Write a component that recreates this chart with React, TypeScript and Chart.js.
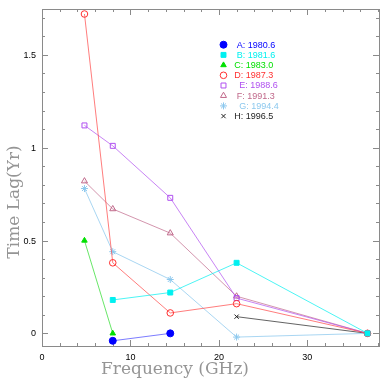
import { useEffect, useRef } from 'react';
import { Chart, registerables } from 'chart.js';
import { drawPoint } from 'chart.js/helpers';

Chart.register(...registerables);

// ---- data ----
const seriesNames = [' A: 1980.6', ' B: 1981.6', 'C: 1983.0', 'D: 1987.3', '  E: 1988.6', ' F: 1991.3', '  G: 1994.4', 'H: 1996.5'];

const freqA = [8.0, 14.5];
const lagA = [-0.04, 0.0];
const freqB = [8.0, 14.5, 22.0, 36.8];
const lagB = [0.18, 0.22, 0.38, 0.0];
const freqC = [4.8, 8.0];
const lagC = [0.5, 0.0];
const freqD = [4.8, 8.0, 14.5, 22.0, 36.8];
const lagD = [1.72, 0.38, 0.11, 0.16, 0.0];
const freqE = [4.8, 8.0, 14.5, 22.0, 36.8];
const lagE = [1.12, 1.01, 0.73, 0.19, 0.0];
const freqF = [4.8, 8.0, 14.5, 22.0, 36.8];
const lagF = [0.82, 0.67, 0.54, 0.2, 0.0];
const freqG = [4.8, 8.0, 14.5, 22.0, 36.8];
const lagG = [0.78, 0.44, 0.29, -0.02, 0.0];
const freqH = [22.0, 36.8];
const lagH = [0.09, 0.0];

const xTickValues = [0, 10, 20, 30];
const xTickLabels = ['0', '10', '20', '30'];
const yTickValues = [0, 0.5, 1, 1.5];
const yTickLabels = ['0', '0.5', '1', '1.5'];
const xMinorStep = 2;
const yMinorStep = 0.1;

const xTitle = 'Frequency (GHz)';
const yTitle = 'Time Lag(Yr)';

// ---- styles ----
const styles = [
  { color: '#0000ff', line: 'rgba(80,80,255,0.75)', shape: 'circle', filled: true, r: 3.5 },
  { color: '#00f0f0', line: 'rgba(0,240,240,0.7)', shape: 'rect', filled: true, r: 3.5 },
  { color: '#00e000', line: 'rgba(40,220,40,0.7)', shape: 'triangle', filled: true, r: 3.2 },
  { color: '#ff3030', line: 'rgba(255,70,70,0.7)', shape: 'circle', filled: false, r: 3.3 },
  { color: '#b050f0', line: 'rgba(176,80,240,0.7)', shape: 'rect', filled: false, r: 3.5 },
  { color: '#c0688a', line: 'rgba(192,104,138,0.7)', shape: 'triangle', filled: false, r: 3.5 },
  { color: '#8cc8ee', line: 'rgba(140,200,238,0.75)', shape: 'star', filled: false, r: 3.5 },
  { color: '#222222', line: 'rgba(60,60,60,0.8)', shape: 'crossRot', filled: false, r: 3 },
];

const xs = [freqA, freqB, freqC, freqD, freqE, freqF, freqG, freqH];
const ys = [lagA, lagB, lagC, lagD, lagE, lagF, lagG, lagH];

const axisColor = '#8a8a8a';
const tickFont = '9px "Liberation Sans", Arial, sans-serif';
const titleFont = '17px "DejaVu Serif", serif';

const framePlugin = {
  id: 'frame',
  beforeDatasetsDraw(chart: any) {
    const { ctx, chartArea: a, scales } = chart;
    const sx = scales.x, sy = scales.y;
    ctx.save();
    ctx.strokeStyle = axisColor;
    ctx.lineWidth = 1;
    ctx.strokeRect(Math.round(a.left) + 0.5, Math.round(a.top) + 0.5, Math.round(a.right - a.left), Math.round(a.bottom - a.top));
    ctx.beginPath();
    for (let v = 0; v <= sx.max + 1e-9; v += xMinorStep) {
      const major = Math.abs(v % 10) < 1e-9;
      const len = major ? 6 : 3;
      const px = Math.round(sx.getPixelForValue(v)) + 0.5;
      ctx.moveTo(px, a.bottom); ctx.lineTo(px, a.bottom - len);
      ctx.moveTo(px, a.top); ctx.lineTo(px, a.top + len);
    }
    for (let i = Math.ceil(sy.min / yMinorStep); i * yMinorStep <= sy.max + 1e-9; i++) {
      const v = i * yMinorStep;
      const major = i % 5 === 0;
      const len = major ? 6 : 3;
      const py = Math.round(sy.getPixelForValue(v)) + 0.5;
      ctx.moveTo(a.left, py); ctx.lineTo(a.left + len, py);
      ctx.moveTo(a.right, py); ctx.lineTo(a.right - len, py);
    }
    ctx.stroke();
    ctx.restore();
  },
  afterDraw(chart: any) {
    const { ctx, chartArea: a, scales } = chart;
    const sx = scales.x, sy = scales.y;
    ctx.save();
    ctx.fillStyle = '#000';
    ctx.font = tickFont;
    ctx.textAlign = 'center';
    ctx.textBaseline = 'middle';
    xTickValues.forEach((v, i) => ctx.fillText(xTickLabels[i], sx.getPixelForValue(v), a.bottom + 11.5));
    ctx.textAlign = 'right';
    yTickValues.forEach((v, i) => ctx.fillText(yTickLabels[i], a.left - 6, sy.getPixelForValue(v) + 0.5));

    ctx.fillStyle = '#959595';
    ctx.font = titleFont;
    ctx.textAlign = 'center';
    ctx.textBaseline = 'middle';
    ctx.fillText(xTitle, 175, 370);
    ctx.save();
    ctx.translate(15, 202);
    ctx.rotate(-Math.PI / 2);
    ctx.fillText(yTitle, 0, 0);
    ctx.restore();

    ctx.font = tickFont;
    ctx.textAlign = 'left';
    chart.data.datasets.forEach((ds: any, i: number) => {
      const st = styles[i];
      const y = 44.7 + i * 10.2;
      ctx.save();
      ctx.strokeStyle = st.color;
      ctx.fillStyle = st.filled ? st.color : 'rgba(0,0,0,0)';
      ctx.lineWidth = 1;
      drawPoint(ctx, { pointStyle: st.shape, radius: st.r, rotation: 0, borderWidth: 1 } as any, 223.5, y);
      ctx.restore();
      ctx.fillStyle = st.color;
      ctx.fillText(ds.label, 234.3, y + 0.5);
    });
    ctx.restore();
  },
};

export default function App() {
  const ref = useRef<HTMLCanvasElement>(null);
  useEffect(() => {
    document.body.style.margin = '0';
    const datasets = xs.map((xv, i) => ({
      label: seriesNames[i],
      data: xv.map((x, j) => ({ x, y: ys[i][j] })),
      showLine: true,
      borderColor: styles[i].line,
      borderWidth: 1,
      pointStyle: styles[i].shape as any,
      pointRadius: styles[i].r,
      pointBorderColor: styles[i].color,
      pointBackgroundColor: styles[i].filled ? styles[i].color : 'rgba(0,0,0,0)',
      pointBorderWidth: 1,
      backgroundColor: styles[i].color,
    }));
    const chart = new Chart(ref.current!, {
      type: 'scatter',
      data: { datasets },
      options: {
        animation: false,
        responsive: false,
        devicePixelRatio: 1,
        layout: { padding: { left: 42, right: 9, top: 9, bottom: 42 } },
        plugins: { legend: { display: false }, tooltip: { enabled: false } },
        scales: {
          x: { type: 'linear', min: 0, max: 38.1, display: false },
          y: { type: 'linear', min: -0.068, max: 1.747, display: false },
        },
      },
      plugins: [framePlugin],
    });
    return () => chart.destroy();
  }, []);
  return (
    <div style={{ width: 388, height: 388, background: '#fff' }}>
      <canvas ref={ref} width={388} height={388} />
    </div>
  );
}
